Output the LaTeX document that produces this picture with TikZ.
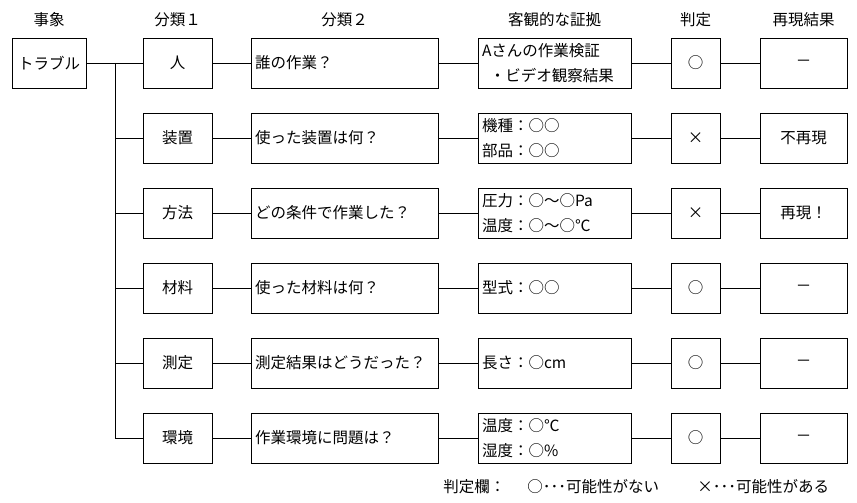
\documentclass[tikz,border=0pt]{standalone}
\usepackage{fontspec}
\setmainfont{Noto Sans CJK JP}
\usepackage{tikz}

\tikzset{
  box/.style={draw, minimum height=50, inner sep=0pt, align=center},
  lbox/.style={draw, minimum height=50, inner xsep=4pt, inner ysep=0pt, align=left},
  head/.style={inner sep=0pt},
}

\begin{document}
\begin{tikzpicture}[x=1pt,y=-1pt,line width=0.8pt,font=\fontsize{15.5}{25}\selectfont]
\useasboundingbox (0,0) rectangle (857,503);
% column heads
\node [head] (h0) at (49,20) {事象};
\node [head] (h1) at (177.5,20) {分類１};
\node [head] (h2) at (344.5,20) {分類２};
\node [head] (h3) at (554.5,20) {客観的な証拠};
\node [head] (h4) at (695.5,20) {判定};
\node [head] (h5) at (803.5,20) {再現結果};
% event
\node [box, minimum width=74] (ev) at (49,63) {トラブル};
\coordinate (br) at (115,63);
% class 1
\node [box, minimum width=69] (c1) at (177.5,63) {人};
\node [box, minimum width=69] (c2) at (177.5,138) {装置};
\node [box, minimum width=69] (c3) at (177.5,213) {方法};
\node [box, minimum width=69] (c4) at (177.5,288) {材料};
\node [box, minimum width=69] (c5) at (177.5,363) {測定};
\node [box, minimum width=69] (c6) at (177.5,438) {環境};
% class 2
\node [lbox, text width=179] (q1) at (344.5,63) {誰の作業？};
\node [lbox, text width=179] (q2) at (344.5,138) {使った装置は何？};
\node [lbox, text width=179] (q3) at (344.5,213) {どの条件で作業した？};
\node [lbox, text width=179] (q4) at (344.5,288) {使った材料は何？};
\node [lbox, text width=179] (q5) at (344.5,363) {測定結果はどうだった？};
\node [lbox, text width=179] (q6) at (344.5,438) {作業環境に問題は？};
% evidence
\node [lbox, text width=145] (e1) at (554.5,63) {Aさんの作業検証\\\hspace*{0.5em}・ビデオ観察結果};
\node [lbox, text width=145] (e2) at (554.5,138) {機種：○○\\部品：○○};
\node [lbox, text width=145] (e3) at (554.5,213) {圧力：○～○Pa\\温度：○～○℃};
\node [lbox, text width=145] (e4) at (554.5,288) {型式：○○};
\node [lbox, text width=145] (e5) at (554.5,363) {長さ：○cm};
\node [lbox, text width=145] (e6) at (554.5,438) {温度：○℃\\湿度：○\%};
% judgement
\node [box, minimum width=49] (j1) at (695.5,63) {○};
\node [box, minimum width=49] (j2) at (695.5,138) {×};
\node [box, minimum width=49] (j3) at (695.5,213) {×};
\node [box, minimum width=49] (j4) at (695.5,288) {○};
\node [box, minimum width=49] (j5) at (695.5,363) {○};
\node [box, minimum width=49] (j6) at (695.5,438) {○};
% result
\node [box, minimum width=87] (r1) at (803.5,63) {－};
\node [box, minimum width=87] (r2) at (803.5,138) {不再現};
\node [box, minimum width=87] (r3) at (803.5,213) {再現！};
\node [box, minimum width=87] (r4) at (803.5,288) {－};
\node [box, minimum width=87] (r5) at (803.5,363) {－};
\node [box, minimum width=87] (r6) at (803.5,438) {－};
% connectors
\draw (ev) -- (c1);
\draw (br) |- (c6);
\foreach \i in {2,...,5} \draw (br |- c\i) -- (c\i);
\foreach \i in {1,...,6} {
  \draw (c\i) -- (q\i);
  \draw (q\i) -- (e\i);
  \draw (e\i) -- (j\i);
  \draw (j\i) -- (r\i);
}
% legend
\node [head, anchor=west] (k0) at (443,487) {判定欄：};
\node [head, anchor=west] (k1) at (527,487) {○･･･可能性がない};
\node [head, anchor=west] (k2) at (697,487) {×･･･可能性がある};
\end{tikzpicture}
\end{document}
